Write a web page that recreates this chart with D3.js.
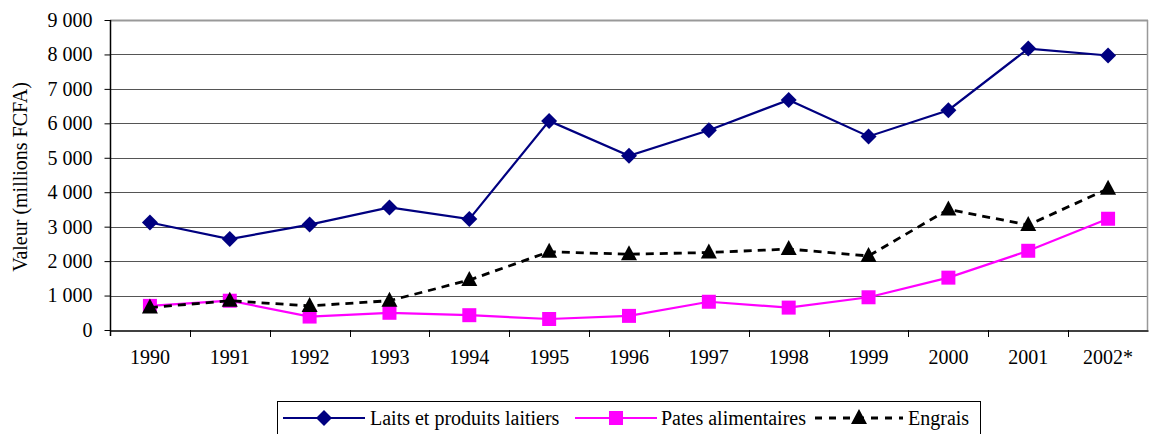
<!DOCTYPE html>
<html>
<head>
<meta charset="utf-8">
<script src="https://cdn.jsdelivr.net/npm/d3@7"></script>
<style>
  body { margin: 0; background: #fff; }
  svg text { font-family: "Liberation Serif", "Times New Roman", Times, "DejaVu Serif", serif; font-size: 20px; fill: #000; }
</style>
</head>
<body>
<svg id="chart" width="1149" height="434"></svg>
<script>
// data
const years = ['1990', '1991', '1992', '1993', '1994', '1995', '1996', '1997', '1998', '1999', '2000', '2001', '2002*'];
const laits = [3120, 2640, 3060, 3560, 3220, 6070, 5060, 5800, 6680, 5620, 6380, 8170, 7970];
const pates = [700, 850, 390, 500, 430, 320, 410, 820, 650, 950, 1520, 2300, 3230];
const engrais = [650, 850, 700, 850, 1450, 2270, 2200, 2250, 2350, 2150, 3500, 3050, 4100];
const yTicks = [0, 1000, 2000, 3000, 4000, 5000, 6000, 7000, 8000, 9000];

const series = [
  {name: 'Laits et produits laitiers', values: laits, color: '#000080', dash: null, marker: 'diamond'},
  {name: 'Pates alimentaires', values: pates, color: '#ff00ff', dash: null, marker: 'square'},
  {name: 'Engrais', values: engrais, color: '#000000', dash: '8,6', marker: 'triangle'}
];

const FONT = '"Liberation Serif", "Times New Roman", Times, "DejaVu Serif", serif';
const svg = d3.select('#chart');
const plot = {left: 110, right: 1148, top: 20, bottom: 330};

const x = d3.scaleBand().domain(years).range([plot.left, plot.right]).padding(0);
const y = d3.scaleLinear().domain([0, 9000]).range([plot.bottom, plot.top]);

// number format with space as thousands separator
const fmt = d => d3.format(',')(d).replace(/,/g, '\u00a0');

// gridlines
svg.append('g')
  .selectAll('line')
  .data(yTicks.filter(d => d > 0))
  .join('line')
  .attr('x1', plot.left).attr('x2', plot.right)
  .attr('y1', d => Math.round(y(d)) + 0.5).attr('y2', d => Math.round(y(d)) + 0.5)
  .attr('stroke', d => d === 9000 ? '#999' : '#555')
  .attr('stroke-width', d => d === 9000 ? 2 : 1);

// right border
svg.append('line')
  .attr('x1', plot.right - 0.5).attr('x2', plot.right - 0.5)
  .attr('y1', plot.top).attr('y2', plot.bottom)
  .attr('stroke', '#999').attr('stroke-width', 1.5);

// y axis
const yAxis = svg.append('g')
  .attr('transform', `translate(${plot.left + 0.5},0)`)
  .call(d3.axisLeft(y).tickValues(yTicks).tickFormat(fmt).tickSize(6).tickSizeOuter(0))
  .attr('font-family', FONT).attr('font-size', 20);
yAxis.select('.domain').attr('stroke', '#000').attr('stroke-width', 1.5).attr('d', `M0,${plot.top}V${plot.bottom + 6}`);
yAxis.selectAll('.tick line').attr('stroke', '#000');
yAxis.selectAll('.tick text').attr('x', -18).attr('fill', '#000');

// x axis
const xAxis = svg.append('g')
  .attr('transform', `translate(0,${plot.bottom + 0.5})`)
  .call(d3.axisBottom(x).tickSize(0).tickSizeOuter(0))
  .attr('font-family', FONT).attr('font-size', 20);
xAxis.select('.domain').attr('stroke', '#000').attr('stroke-width', 1.5);
xAxis.selectAll('.tick text').attr('y', 19).attr('fill', '#000');
// tick marks between categories
svg.append('g')
  .selectAll('line')
  .data(years.slice(1))
  .join('line')
  .attr('x1', d => Math.round(x(d)) + 0.5).attr('x2', d => Math.round(x(d)) + 0.5)
  .attr('y1', plot.bottom).attr('y2', plot.bottom + 7)
  .attr('stroke', '#000');

// y label
svg.append('text')
  .attr('transform', `translate(27,${(plot.top + plot.bottom) / 2 + 2}) rotate(-90)`)
  .attr('text-anchor', 'middle')
  .text('Valeur (millions FCFA)');

// markers
function markerPath(type) {
  if (type === 'diamond') return 'M0,-8L8,0L0,8L-8,0Z';
  if (type === 'square') return 'M-7,-7H7V7H-7Z';
  return 'M0,-9L8,6H-8Z';
}

const cx = d => x(d) + x.bandwidth() / 2;
const line = d3.line().x((d, i) => cx(years[i])).y(d => y(d));

series.forEach(s => {
  svg.append('path')
    .datum(s.values)
    .attr('d', line)
    .attr('fill', 'none')
    .attr('stroke', s.color)
    .attr('stroke-width', s.dash ? 2.8 : 2.2)
    .attr('stroke-dasharray', s.dash);
  svg.append('g')
    .selectAll('path')
    .data(s.values)
    .join('path')
    .attr('transform', (d, i) => `translate(${cx(years[i])},${y(d)})`)
    .attr('d', markerPath(s.marker))
    .attr('fill', s.color);
});

// legend
const legend = svg.append('g');
legend.append('rect')
  .attr('x', 277.5).attr('y', 401.5).attr('width', 703).attr('height', 40)
  .attr('fill', '#fff').attr('stroke', '#000').attr('stroke-width', 1);
const legendItems = [
  {x0: 283, x1: 365, tx: 370},
  {x0: 575, x1: 657, tx: 661},
  {x0: 815, x1: 903, tx: 908}
];
series.forEach((s, i) => {
  const p = legendItems[i];
  const ly = 418;
  legend.append('line')
    .attr('x1', p.x0).attr('x2', p.x1).attr('y1', ly).attr('y2', ly)
    .attr('stroke', s.color).attr('stroke-width', s.dash ? 2.8 : 2.2)
    .attr('stroke-dasharray', s.dash ? '7,7' : null);
  legend.append('path')
    .attr('transform', `translate(${(p.x0 + p.x1) / 2},${ly})`)
    .attr('d', markerPath(s.marker))
    .attr('fill', s.color);
  legend.append('text')
    .attr('x', p.tx).attr('y', 425)
    .text(s.name);
});
</script>
</body>
</html>
